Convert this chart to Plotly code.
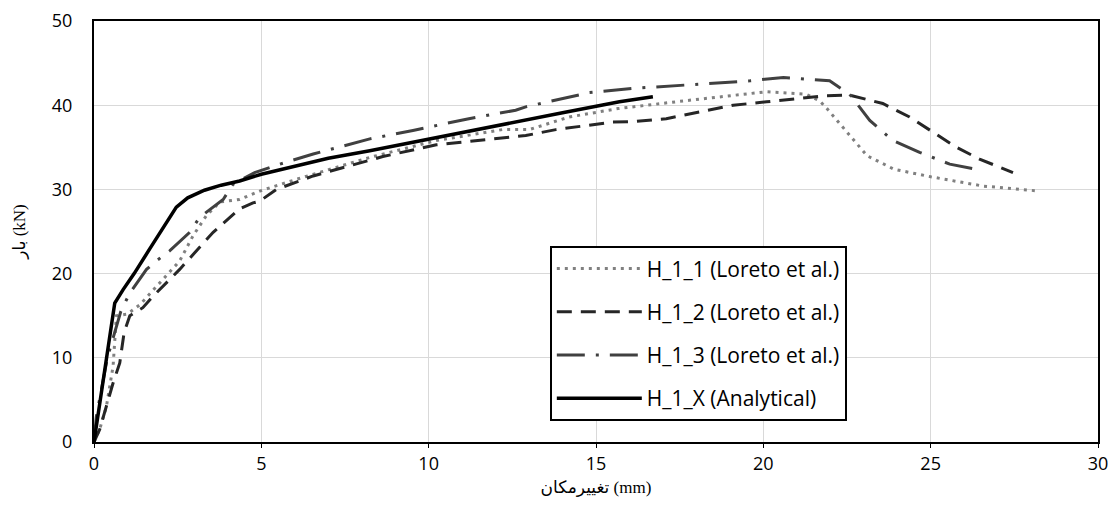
import plotly.graph_objects as go

# H_1_X (Analytical)
x_hx = [0, 0.3, 0.62, 0.87, 1.2, 1.66, 2.0, 2.46, 2.8, 3.3, 3.8, 4.35, 5, 6, 7, 8.24, 10, 12, 14, 15.7, 16.7]
y_hx = [0, 8, 16.5, 18.1, 20.0, 22.9, 25.0, 27.9, 29.0, 29.9, 30.5, 31.0, 31.8, 32.8, 33.7, 34.6, 36.0, 37.6, 39.1, 40.4, 41.0]

# H_1_1 (Loreto et al.)
x_h1 = [0, 0.17, 0.37, 0.57, 0.67, 1.0, 1.37, 1.96, 2.56, 2.96, 3.36, 3.76, 4.35, 4.95, 6.05, 8.24, 10.23,
        12.2, 13.0, 14.2, 15.66, 17.6, 20.09, 21.28, 21.69, 21.9, 22.6, 23.1, 23.9, 25.0, 26.56, 28.26]
y_h1 = [0, 1.5, 4.2, 9.0, 15.0, 15.2, 16.3, 18.9, 21.5, 24.5, 26.9, 28.5, 28.8, 29.8, 31.2, 33.8, 35.8,
        37.1, 37.1, 38.6, 39.6, 40.5, 41.6, 41.3, 40.5, 39.6, 36.4, 34.0, 32.4, 31.5, 30.4, 29.8]

# H_1_2 (Loreto et al.)
x_h2 = [0, 0.17, 0.57, 0.77, 0.9, 1.07, 1.46, 1.76, 2.56, 3.56, 4.35, 4.75, 4.95, 5.45, 6.55, 8.63, 10.23,
        12.0, 12.9, 13.8, 15.5, 16.1, 17.1, 18.1, 19.1, 20.1, 21.1, 21.8, 22.58, 23.57, 24.37, 25.07, 25.77,
        26.46, 27.46]
y_h2 = [0, 1.5, 7.0, 9.4, 13.0, 15.0, 15.95, 17.3, 20.5, 24.9, 27.7, 28.4, 28.6, 30.0, 31.6, 33.9, 35.3,
        36.0, 36.4, 37.1, 38.0, 38.05, 38.4, 39.2, 40.0, 40.4, 40.8, 41.1, 41.2, 40.2, 38.6, 36.8, 35.0,
        33.6, 32.0]

# H_1_3 (Loreto et al.)
x_h3 = [0, 0.07, 0.4, 0.8, 1.07, 1.57, 1.86, 2.26, 2.86, 3.16, 3.86, 4.15, 4.8, 5.55, 6.55, 8.24, 9.53,
        11.2, 12.6, 12.9, 14.8, 16.1, 18.1, 19.6, 20.6, 21.98, 22.58, 23.18, 23.87, 24.67, 25.57, 26.36]
y_h3 = [0, 3, 10, 15.5, 17.7, 20.5, 21.5, 22.7, 24.9, 26.7, 28.8, 30.6, 32.0, 33.0, 34.2, 36.0, 37.0,
        38.4, 39.4, 39.8, 41.5, 42.0, 42.5, 42.9, 43.3, 42.9, 41.3, 38.2, 35.8, 34.4, 33.0, 32.4]

names = ["H_1_1 (Loreto et al.)", "H_1_2 (Loreto et al.)", "H_1_3 (Loreto et al.)", "H_1_X (Analytical)"]
x_ticks = [0, 5, 10, 15, 20, 25, 30]
y_ticks = [0, 10, 20, 30, 40, 50]

fig = go.Figure()
fig.add_trace(go.Scatter(x=x_h1, y=y_h1, mode="lines", name=names[0], legendgroup="g1",
                         line=dict(color="#808080", width=3, dash="3px,5px")))
fig.add_trace(go.Scatter(x=x_h2, y=y_h2, mode="lines", name=names[1], legendgroup="g2",
                         line=dict(color="#262626", width=3, dash="15px,9px")))
fig.add_trace(go.Scatter(x=x_h3, y=y_h3, mode="lines", name=names[2], legendgroup="g3",
                         line=dict(color="#404040", width=3, dash="28px,11px,3px,11px")))
fig.add_trace(go.Scatter(x=x_hx, y=y_hx, mode="lines", name=names[3], legendgroup="g4",
                         line=dict(color="#000000", width=3.5)))

tick_font = dict(family="Open Sans, Lato, sans-serif", size=18, color="#000000")
title_font = dict(family="Liberation Serif, DejaVu Sans, serif", size=17, color="#000000")

fig.update_layout(
    width=1111, height=510,
    margin=dict(l=94, r=13, t=21, b=68),
    plot_bgcolor="white", paper_bgcolor="white",
    showlegend=True,
    legend=dict(x=0.454, y=0.465, xanchor="left", yanchor="top",
                bgcolor="white", bordercolor="black", borderwidth=2,
                font=dict(family="Open Sans, Lato, sans-serif", size=21, color="#000000"),
                itemwidth=85, tracegroupgap=13),
    xaxis=dict(range=[0, 30], tickvals=x_ticks, ticktext=[str(v) for v in x_ticks],
               automargin=False,
               showgrid=True, gridcolor="#d9d9d9", gridwidth=1, zeroline=False,
               showline=True, linecolor="black", linewidth=2, mirror=True,
               ticks="outside", ticklen=4, tickcolor="black", tickfont=tick_font,
               title=dict(text="تغییرمکان (mm)", font=title_font, standoff=8)),
    yaxis=dict(range=[0, 50], tickvals=y_ticks, ticktext=[str(v) for v in y_ticks],
               automargin=False,
               showgrid=True, gridcolor="#d9d9d9", gridwidth=1, zeroline=False,
               showline=True, linecolor="black", linewidth=2, mirror=True,
               ticks="", tickfont=tick_font, ticklabelstandoff=16,
               title=dict(text="بار (kN)", font=title_font, standoff=22)),
)

fig.write_html("out.html",
               config={"displayModeBar": False},
               post_script="document.body.style.margin='0';document.body.style.overflow='hidden';")
